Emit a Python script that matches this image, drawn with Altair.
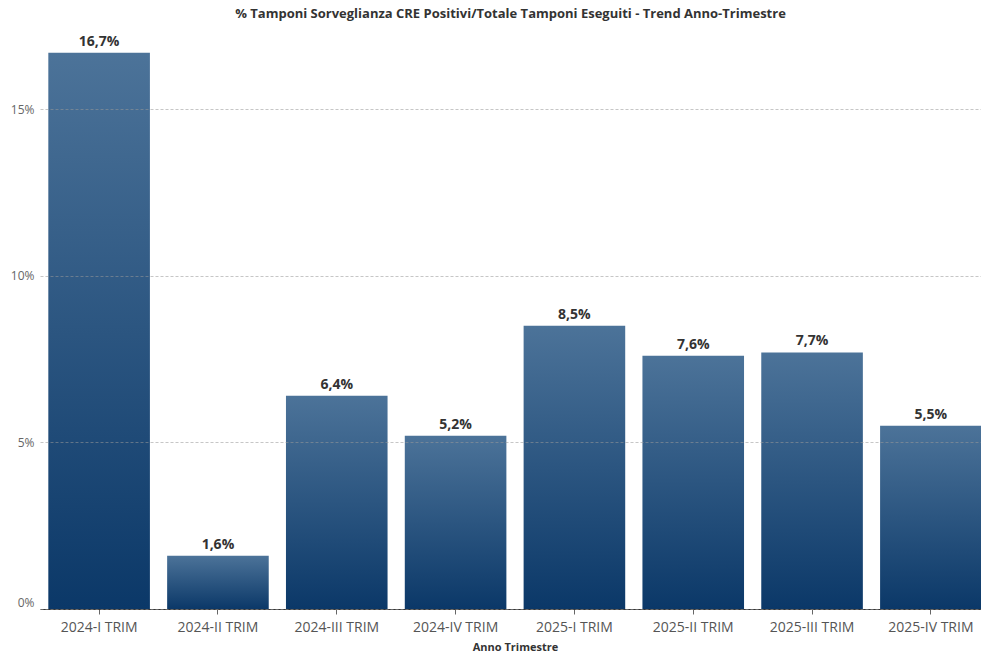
import altair as alt
import pandas as pd

categories = ["2024-I TRIM", "2024-II TRIM", "2024-III TRIM", "2024-IV TRIM",
              "2025-I TRIM", "2025-II TRIM", "2025-III TRIM", "2025-IV TRIM"]
values = [16.7, 1.6, 6.4, 5.2, 8.5, 7.6, 7.7, 5.5]

df = pd.DataFrame({"cat": categories, "v": values})

FONT = "Open Sans"

x = alt.X("cat:N", sort=categories, title="Anno Trimestre",
          scale=alt.Scale(paddingInner=0.145, paddingOuter=0.07, range=[0, 950]),
          axis=alt.Axis(labelAngle=0, labelFontSize=14, labelColor="#555555",
                        labelFont=FONT, labelPadding=6, tickSize=5,
                        tickColor="#666666", domainColor="#333333",
                        titleFont=FONT, titleFontSize=11, titleFontWeight="bold",
                        titleColor="#333333", titlePadding=7, grid=False))

y = alt.Y("v:Q", title=None,
          scale=alt.Scale(domain=[0, 17.5], nice=False),
          axis=alt.Axis(values=[0, 5, 10, 15], labelExpr="datum.value + '%'",
                        labelFont=FONT, labelFontSize=12, labelColor="#666666",
                        labelBaseline={"condition": {"test": "datum.value == 0", "value": "bottom"},
                                       "value": "middle"},
                        ticks=False, domain=False, labelPadding=6,
                        grid=True, gridColor="#999999", gridOpacity=0.7,
                        gridDash=[3, 2], gridWidth=0.8, zindex=1))

base = alt.Chart(df)

bars = base.mark_bar(
    color=alt.Gradient(
        gradient="linear",
        stops=[alt.GradientStop(color="#4c7399", offset=0),
               alt.GradientStop(color="#0b3868", offset=1)],
        x1=0, x2=0, y1=0, y2=1,
    )
).encode(x=x, y=y)

labels = base.mark_text(dy=-11, fontSize=14, fontWeight="bold", font=FONT,
                        color="#333333").transform_calculate(
    lab="replace(format(datum.v, '.1f'), '.', ',') + '%'"
).encode(x=alt.X("cat:N", sort=categories), y="v:Q", text="lab:N")

chart = alt.layer(bars, labels).properties(
    width=941, height=583,
    title=alt.TitleParams("% Tamponi Sorveglianza CRE Positivi/Totale Tamponi Eseguiti - Trend Anno-Trimestre",
                          font=FONT, fontSize=13, fontWeight="bold", color="#333333",
                          anchor="middle", offset=5),
    autosize=alt.AutoSizeParams(type="none"),
    padding={"left": 40, "top": 26, "right": 0, "bottom": 51},
).configure_view(stroke=None)

chart.save("out.html", embed_options={"renderer": "svg", "actions": False})
